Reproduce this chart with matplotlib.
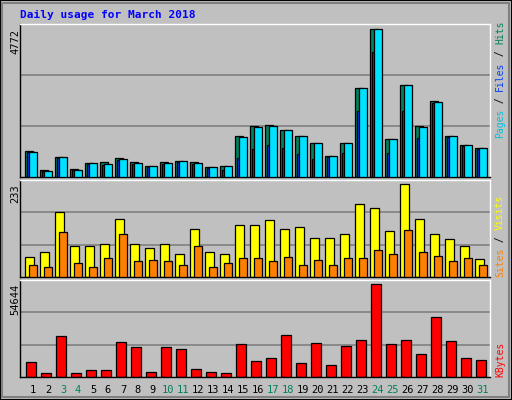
import matplotlib
matplotlib.use("Agg")
import matplotlib.pyplot as plt
from matplotlib.patches import Rectangle

days = list(range(1, 32))
weekend = [3, 4, 10, 11, 17, 18, 24, 25, 31]
hits = [846,217,651,249,455,488,618,488,358,488,521,488,325,358,1334,1659,1692,1529,1334,1106,683,1106,2863,4772,1236,2961,1659,2440,1334,1041,944]
files = [813,184,618,217,423,390,553,423,325,423,488,423,293,228,629,911,1041,944,748,586,651,781,2147,4034,781,2147,1269,2375,1301,1009,911]
pages = [813,184,651,217,455,423,586,455,358,455,521,455,325,358,1301,1627,1659,1529,1334,1106,683,1106,2863,4772,1236,2961,1627,2408,1334,1041,944]
visits = [51,62,163,77,79,82,145,82,74,82,59,120,62,59,130,130,143,120,127,97,97,107,183,173,115,233,145,107,95,79,46]
sites = [31,26,112,34,24,49,107,41,44,41,31,79,26,36,49,49,41,51,31,44,31,49,49,67,59,117,64,54,41,49,31]
kbytes = [8575,2592,24130,2592,4387,4387,20540,17550,3190,17550,16350,4985,3190,2592,19340,9170,10970,24730,7976,19940,6780,18150,21740,54644,19340,21740,13360,35490,21140,10970,9770]

W, H = 512, 400
fig = plt.figure(figsize=(W/100, H/100), dpi=100, facecolor="#C0C0C0")
mono = "DejaVu Sans Mono"
GREEN = "#00805C"

def fx(px): return px / W
def fy(py): return 1 - py / H

fig.patches.append(Rectangle((0, 0), 1, 1, transform=fig.transFigure, fill=False, ec="black", lw=1.5))
fig.patches.append(Rectangle((fx(2), fy(397)), fx(507), fy(3)-fy(397), transform=fig.transFigure, fill=False, ec="#808080", lw=1.5))

def make_ax(top, bot):
    ax = fig.add_axes([fx(20), fy(bot), fx(490-20), fy(top)-fy(bot)])
    ax.set_facecolor("#C0C0C0")
    ax.set_xlim(0.133, 31.47)
    ax.set_xticks([]); ax.set_yticks([])
    for s in ax.spines.values():
        s.set_color("black"); s.set_linewidth(1)
    ax.spines["top"].set_color("white"); ax.spines["right"].set_color("white")
    return ax

def grid(ax, ymax):
    for f in (1/3, 2/3):
        ax.axhline(ymax*f, color="#808080", lw=1.2, zorder=0)

x = days
ax1 = make_ax(24, 177)
ax1.set_ylim(0, 4943); grid(ax1, 4943)
ax1.bar([d-0.533 for d in x], hits, width=0.533, align="edge", color="#00805C", ec="black", lw=0.9, zorder=2)
ax1.bar([d-0.4 for d in x], files, width=0.533, align="edge", color="#0040FF", ec="black", lw=0.9, zorder=3)
ax1.bar([d-0.267 for d in x], pages, width=0.533, align="edge", color="#00E0FF", ec="black", lw=0.9, zorder=4)

ax2 = make_ax(180, 277)
ax2.set_ylim(0, 244); grid(ax2, 244)
ax2.bar([d-0.51 for d in x], visits, width=0.56, align="edge", color="#FFFF00", ec="black", lw=0.9, zorder=2)
ax2.bar([d-0.25 for d in x], sites, width=0.49, align="edge", color="#FF8000", ec="black", lw=0.9, zorder=3)

ax3 = make_ax(280, 377)
ax3.set_ylim(0, 57000); grid(ax3, 57000)
ax3.bar([d-0.467 for d in x], kbytes, width=0.667, align="edge", color="#FF0000", ec="black", lw=0.9, zorder=2)
for d in days:
    ax3.text(d, -0.13, str(d), transform=ax3.get_xaxis_transform(), ha="center", va="center",
             family=mono, fontsize=7.5, color=GREEN if d in weekend else "black")

fig.text(fx(20), fy(15), "Daily usage for March 2018", family=mono, fontsize=8,
         fontweight="bold", color="#0000FF", ha="left", va="center")

fig.text(fx(15), fy(29), "4772", rotation=90, family=mono, fontsize=7.5, ha="center", va="top")
fig.text(fx(15), fy(184), "233", rotation=90, family=mono, fontsize=7.5, ha="center", va="top")
fig.text(fx(15), fy(284), "54644", rotation=90, family=mono, fontsize=7.5, ha="center", va="top")

FS = 7.0
STEP = FS * 100 / 72 * 0.602

def right_label(parts, y_bottom):
    y = y_bottom
    for txt, col in parts:
        fig.text(fx(500), fy(y), txt, rotation=90, family=mono, fontsize=FS,
                 color=col, ha="center", va="bottom")
        y -= len(txt) * STEP

right_label([("Pages", "#00C0E0"), (" / ", "black"), ("Files", "#0040FF"), (" / ", "black"), ("Hits", GREEN)], 138)
right_label([("Sites", "#FF8000"), (" / ", "black"), ("Visits", "#FFFF00")], 277)
right_label([("KBytes", "#FF0000")], 377)

fig.savefig("out.png", dpi=100, facecolor=fig.get_facecolor())
